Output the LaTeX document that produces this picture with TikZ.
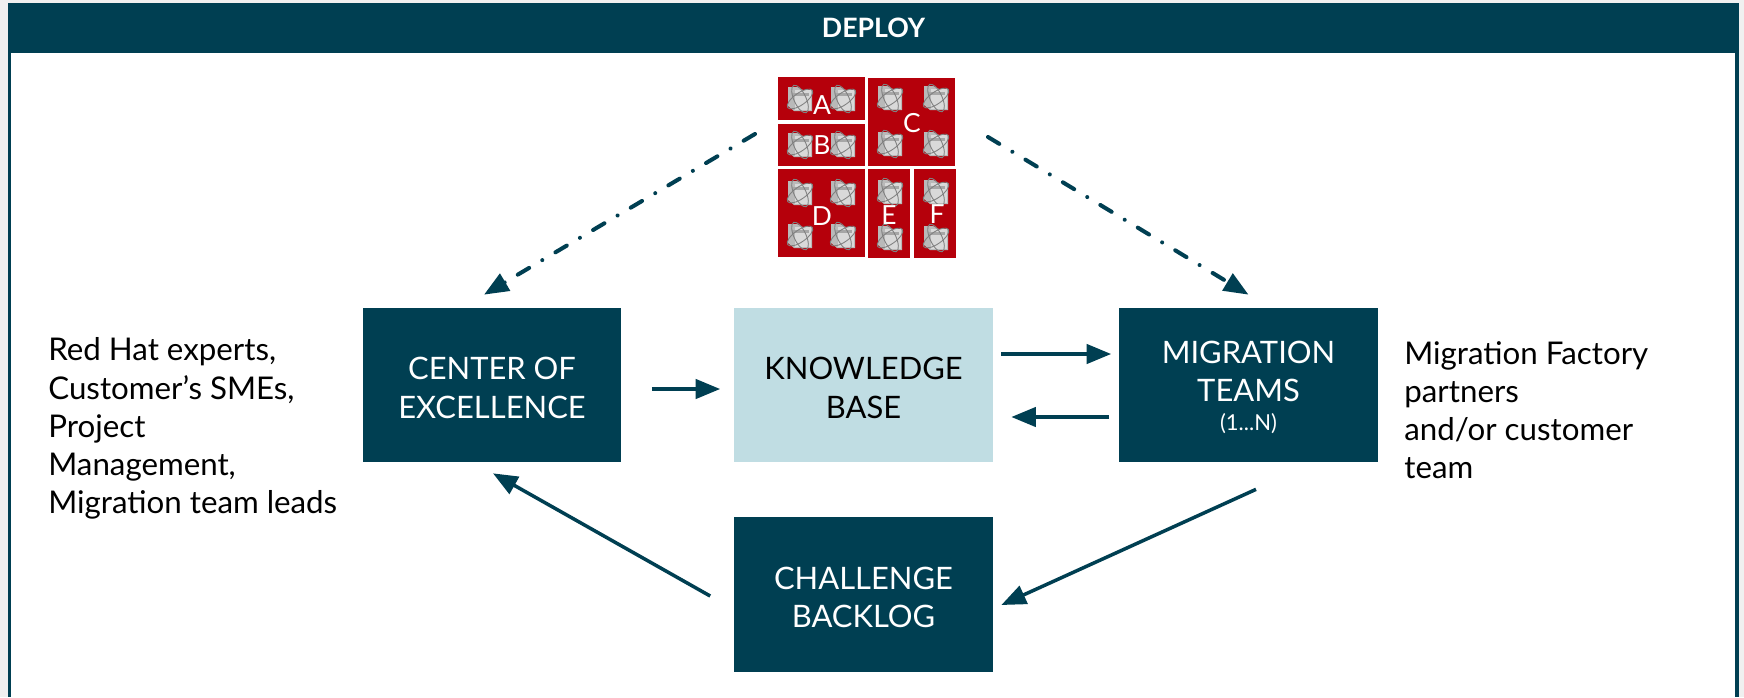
\documentclass[tikz,border=0pt]{standalone}
\usepackage{fontspec}
\setmainfont{Lato}
\usetikzlibrary{arrows.meta}
\definecolor{deploy}{HTML}{003F52}
\definecolor{kbase}{HTML}{C0DDE3}
\definecolor{vmred}{HTML}{B5000B}
\newcommand{\boxstrut}[1]{\rule{0pt}{#1}}
\tikzset{
  darkbox/.style={fill=deploy, text=white, minimum width=5.18cm, minimum height=3.1cm, align=center, font=\fontsize{17.6}{22}\selectfont, inner sep=0pt},
  lightbox/.style={darkbox, fill=kbase, text=black},
  side/.style={align=left, anchor=north west, font=\fontsize{17.8}{21.7}\selectfont, inner sep=0pt},
  flow/.style={draw=deploy, line width=2pt, -{Triangle[length=14pt,width=11pt]}},
  dashflow/.style={flow, line width=2.3pt, line cap=round, dash pattern=on 7.5pt off 8.7pt on 0.01pt off 8.7pt},
  redblock/.style={fill=vmred},
  blocklabel/.style={text=white, inner sep=0pt, font=\fontsize{15}{15}\selectfont},
  vm/.pic={
    \fill[gray!55] (-12,-12) -- (-3,-12) -- (3,-9) -- (12,-9) -- (12,12) -- (-6,12) -- (-12,7) -- cycle;
    \fill[gray!30] (-5,-9) rectangle (11,11);
    \fill[gray!70] (-8,-6) rectangle (9,-3);
    \draw[gray, line width=0.5pt, rotate=35] (0,0) ellipse (15 and 6);
    \draw[gray, line width=0.5pt, rotate=-65] (0,0) ellipse (15 and 6);
  }
}
\begin{document}
\begin{tikzpicture}[x=0.02cm,y=-0.02cm]
\useasboundingbox (0,0) rectangle (1744,697);
\fill[gray!12] (0,0) rectangle (1744,697);
\fill[white] (9,50) rectangle (1737,697);
\draw[deploy, line width=2.2pt] (9.5,3) -- (9.5,697);
\draw[deploy, line width=2.2pt] (1737,3) -- (1737,697);
\node[fill=deploy, text=white, minimum width=34.64cm, minimum height=1cm, inner sep=0pt, font=\bfseries\fontsize{15.2}{18}\selectfont] (title) at (873.5,28) {DEPLOY};
% red blocks
\fill[redblock] (778,77) rectangle (865,120);
\fill[redblock] (778,124) rectangle (865,166);
\fill[redblock] (868,78) rectangle (955,166);
\fill[redblock] (778,169) rectangle (865,257);
\fill[redblock] (868,169) rectangle (910,258);
\fill[redblock] (914,169) rectangle (956,258);
\foreach \x/\y in {800/99,843/99,800/145,843/145,890/98,936/98,890/144,936/144,800/193,843/193,800/236,843/236,890/192,890/238,936/192,936/238}
  \pic at (\x,\y) {vm};
\node[blocklabel] (a) at (822,105) {A};
\node[blocklabel] (b) at (822,145) {B};
\node[blocklabel] (c) at (912,123) {C};
\node[blocklabel] (d) at (822,216) {D};
\node[blocklabel] (e) at (889,215) {E};
\node[blocklabel] (f) at (937,214) {F};
% main boxes
\node[darkbox] (coe) at (492,385) {\boxstrut{16.3pt}CENTER OF\\EXCELLENCE};
\node[lightbox] (kb) at (863.5,385) {\boxstrut{16.3pt}KNOWLEDGE\\BASE};
\node[darkbox] (teams) at (1248.5,385) {\boxstrut{15.3pt}MIGRATION\\[-0.4pt]TEAMS\\[-5.8pt]{\fontsize{12.5}{14}\selectfont (1...N)}};
\node[darkbox] (backlog) at (863.5,594.5) {\boxstrut{16pt}CHALLENGE\\BACKLOG};
\node[side] (left) at (48,337.5) {Red Hat experts,\\Customer’s SMEs,\\Project\\Management,\\Migration team leads};
\node[side] (right) at (1404,341) {Migration Factory\\partners\\and/or customer\\team};
\coordinate (dashl) at (755,134);
\coordinate (dashr) at (988,137);
\draw[dashflow] (dashl) -- ([shift={(-8,-12.5)}]coe.north);
\draw[dashflow] (dashr) -- ([shift={(0,-12.5)}]teams.north);
\draw[flow] ([shift={(30,4)}]coe.east) -- ([shift={(-13.5,4)}]kb.west);
\draw[flow] ([shift={(8,-31)}]kb.east) -- ([shift={(-7.5,-31)}]teams.west);
\draw[flow] ([shift={(-9.5,32)}]teams.west) -- ([shift={(18,32)}]kb.east);
\draw[flow] ([shift={(7.5,26.5)}]teams.south) -- ([shift={(8,10.5)}]backlog.east);
\draw[flow] ([shift={(-23.5,1.5)}]backlog.west) -- ([shift={(1,10.5)}]coe.south);
\end{tikzpicture}
\end{document}
